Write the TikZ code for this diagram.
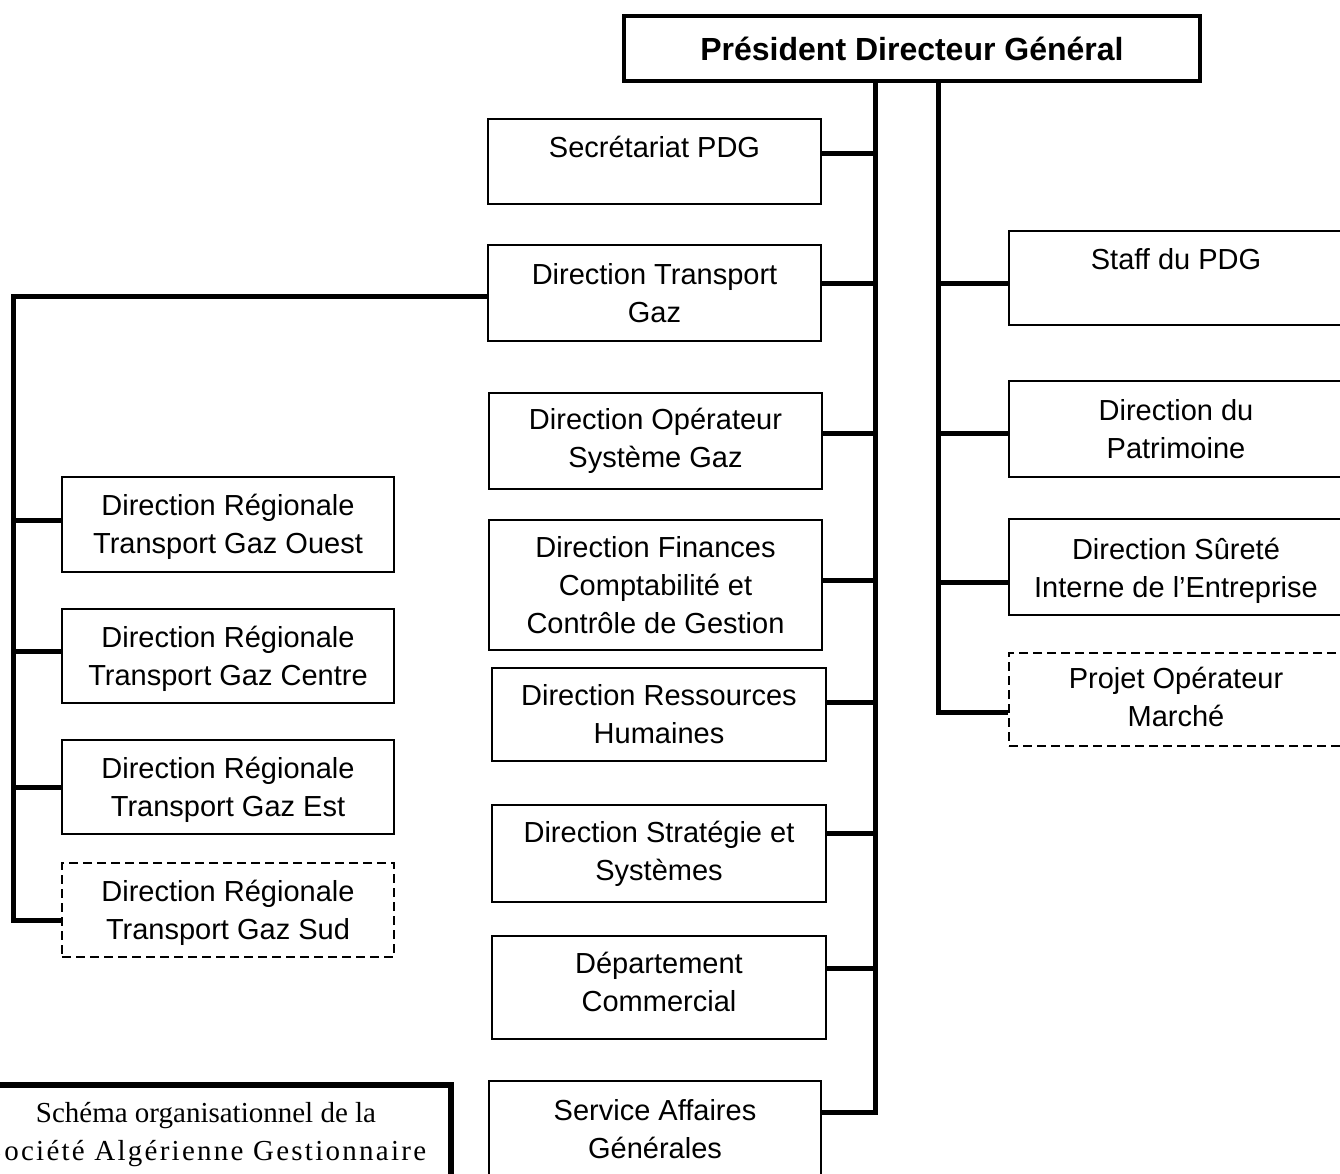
\documentclass[tikz,border=0pt]{standalone}
\usepackage{fontspec}
\setmainfont{Liberation Sans}
\newfontfamily\capserif{Liberation Serif}
\newfontfamily\capserifwide{Liberation Serif}[LetterSpace=7.8]
\begin{document}
\begin{tikzpicture}[x=1pt,y=-1pt,
  box/.style={draw, line width=2pt, inner sep=0pt, align=center, font=\fontsize{29}{38}\selectfont},
  dbox/.style={box, dash pattern=on 9pt off 5pt},
  conn/.style={line width=5pt, line join=miter},
  cbox/.style={box, minimum width=333pt},
  rbox/.style={box, minimum width=334pt},
  lbox/.style={box, minimum width=332pt}]
\useasboundingbox (0,0) rectangle (1340,1174);
\clip (0,0) rectangle (1340,1174);
\fill[white] (0,0) rectangle (1340,1174);

% top
\node[box, line width=4pt, minimum width=576pt, minimum height=65pt,
      font=\fontsize{32}{38}\selectfont\bfseries] (pdg) at (912,48.5) {Président Directeur Général};

% centre column
\node[cbox, minimum height=85pt, text height=69pt] (sec) at (654.5,161.5) {Secrétariat PDG\\~};
\node[cbox, minimum height=96pt] (dtg) at (654.5,293) {Direction Transport\\Gaz};
\node[cbox, minimum height=96pt] (dos) at (655.5,441) {Direction Opérateur\\Système Gaz};
\node[cbox, minimum height=130pt] (dfc) at (655.5,585) {Direction Finances\\Comptabilité et\\Contrôle de Gestion};
\node[cbox, minimum width=334pt, minimum height=93pt] (drh) at (659,714.5) {Direction Ressources\\Humaines};
\node[cbox, minimum width=334pt, minimum height=97pt] (dss) at (659,853.5) {Direction Stratégie et\\Systèmes};
\node[cbox, minimum width=334pt, minimum height=103pt, text depth=12pt] (dcm) at (659,987.5) {Département\\Commercial};
\node[cbox, minimum width=332pt, minimum height=96pt] (saf) at (655,1129) {Service Affaires\\Générales};

% right column
\node[rbox, minimum height=94pt] (stf) at (1176,278) {Staff du PDG\\~};
\node[rbox, minimum height=96pt] (pat) at (1176,429) {Direction du\\Patrimoine};
\node[rbox, minimum height=96pt, text height=67pt] (sur) at (1176,567) {Direction Sûreté\\Interne de l’Entreprise};
\node[rbox, dbox, minimum height=93pt, text depth=6pt] (pom) at (1176,699.5) {Projet Opérateur\\Marché};

% left column
\node[lbox, minimum height=95pt, text height=65pt] (dro) at (228,524.5) {Direction Régionale\\Transport Gaz Ouest};
\node[lbox, minimum height=94pt, text height=65pt] (drc) at (228,656) {Direction Régionale\\Transport Gaz Centre};
\node[lbox, minimum height=94pt, text height=65pt] (dre) at (228,787) {Direction Régionale\\Transport Gaz Est};
\node[lbox, dbox, minimum height=94pt, text height=65pt] (drs) at (228,910) {Direction Régionale\\Transport Gaz Sud};

% caption
\node[draw, line width=6pt, anchor=north, minimum width=490pt, inner sep=17pt, text depth=30pt,
      align=center, font=\capserif\fontsize{29}{38}\selectfont] (cap) at (206,1082)
      {Schéma organisationnel de la\\{\capserifwide Société Algérienne Gestionnaire}};

% trunks
\coordinate (mx) at (875,0);
\coordinate (rx) at (938,0);
\coordinate (lx) at (13,0);

\coordinate (m8) at (875,1112);
\draw[conn] (mx |- pdg.south) -- (m8) -- (m8 -| saf.east);
\foreach \n/\y in {sec/154, dtg/283, dos/433, dfc/580, drh/702, dss/833, dcm/968}
  \draw[conn] (\n.east |- 0,\y) -- (mx |- 0,\y);

\coordinate (r4) at (938,712);
\draw[conn] (rx |- pdg.south) -- (r4) -- (r4 -| pom.west);
\foreach \n/\y in {stf/283, pat/433, sur/582}
  \draw[conn] (rx |- 0,\y) -- (\n.west |- 0,\y);

\coordinate (l0) at (13,296);
\coordinate (l4) at (13,920);
\draw[conn] (l0 -| dtg.west) -- (l0) -- (l4) -- (l4 -| drs.west);
\foreach \n/\y in {dro/520, drc/651, dre/787}
  \draw[conn] (lx |- 0,\y) -- (\n.west |- 0,\y);
\end{tikzpicture}
\end{document}
